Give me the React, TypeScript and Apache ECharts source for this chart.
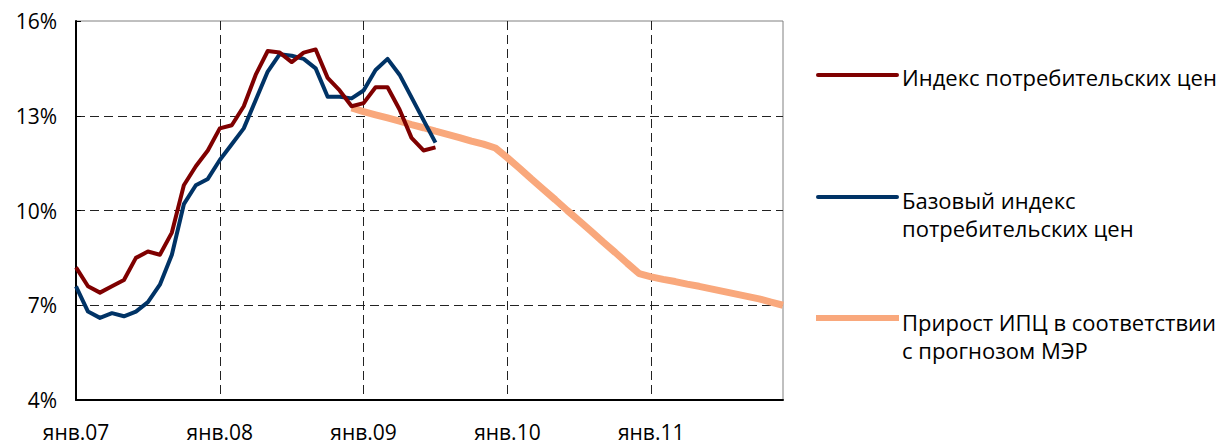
import React, { useEffect, useRef } from "react";
import * as echarts from "echarts";

const monthNames = ["янв", "фев", "мар", "апр", "май", "июн", "июл", "авг", "сен", "окт", "ноя", "дек"];
const years = ["07", "08", "09", "10", "11"];
const categories: string[] = [];
years.forEach((y) => monthNames.forEach((m) => categories.push(`${m}.${y}`)));

// ИПЦ, % г/г, янв.07 – июл.09
const cpi = [
  8.2, 7.6, 7.4, 7.6, 7.8, 8.5, 8.7, 8.6, 9.3, 10.8, 11.4, 11.9,
  12.6, 12.7, 13.3, 14.3, 15.05, 15.0, 14.7, 15.0, 15.1, 14.2, 13.8, 13.3,
  13.4, 13.9, 13.9, 13.2, 12.3, 11.9, 12.0,
];
// Базовый ИПЦ, % г/г, янв.07 – июл.09
const coreCpi = [
  7.6, 6.8, 6.6, 6.75, 6.65, 6.8, 7.1, 7.65, 8.6, 10.2, 10.8, 11.0,
  11.6, 12.1, 12.6, 13.5, 14.4, 14.95, 14.9, 14.8, 14.5, 13.6, 13.6, 13.55,
  13.8, 14.45, 14.8, 14.3, 13.58, 12.86, 12.15,
];
// Прогноз МЭР, дек.08 – дек.11
const forecastStart = "дек.08";
const forecast = [
  13.25,
  13.13, 13.03, 12.93, 12.83, 12.72, 12.62, 12.51, 12.41, 12.31, 12.2, 12.1, 11.98,
  11.67, 11.34, 11.0, 10.67, 10.34, 10.0, 9.67, 9.34, 9.0, 8.67, 8.33, 8.0,
  7.9, 7.82, 7.75, 7.67, 7.6, 7.52, 7.44, 7.36, 7.28, 7.2, 7.1, 7.0,
];
const yTicks = { min: 4, max: 16, interval: 3 };

const seriesNames = [
  "Индекс потребительских цен",
  "Базовый индекс\nпотребительских цен",
  "Прирост ИПЦ в соответствии\nс прогнозом МЭР",
];
const colors = ["#7F0000", "#003366", "#F9A87C"];

const FONT = "'Open Sans', 'Noto Sans', sans-serif";

export default function App() {
  const ref = useRef<HTMLDivElement>(null);
  useEffect(() => {
    if (!ref.current) return;
    const chart = echarts.init(ref.current, undefined, { renderer: "svg" });
    const startIdx = categories.indexOf(forecastStart);
    const forecastData = categories.map((_, i) =>
      i >= startIdx && i - startIdx < forecast.length ? forecast[i - startIdx] : null
    );
    const dash = [9, 5];
    const legendX = 818;
    const legendLineEnd = 897;
    const textX = 902;
    const isJan = (i: number) => i % 12 === 0;
    chart.setOption({
      animation: false,
      grid: {
        left: 76,
        right: 447,
        top: 21,
        bottom: 44,
        show: true,
        borderColor: "#808080",
        borderWidth: 1,
        outerBoundsMode: "none",
        containLabel: false,
      },
      xAxis: {
        type: "category",
        data: categories,
        boundaryGap: false,
        axisLine: { lineStyle: { color: "#000", width: 2 } },
        axisTick: { show: false, interval: isJan },
        axisLabel: {
          interval: isJan,
          fontSize: 21,
          color: "#000",
          fontFamily: FONT,
          margin: 21,
          hideOverlap: false,
        },
        splitLine: {
          show: true,
          showMinLine: false,
          interval: isJan,
          lineStyle: { color: "#222", type: dash, width: 1 },
        },
      },
      yAxis: {
        type: "value",
        min: yTicks.min,
        max: yTicks.max,
        interval: yTicks.interval,
        axisLine: { show: true, lineStyle: { color: "#000", width: 2 } },
        axisTick: { show: true, inside: true, length: 5, lineStyle: { color: "#000", width: 1 } },
        axisLabel: {
          formatter: "{value}%",
          fontSize: 21,
          color: "#000",
          fontFamily: FONT,
          margin: 19,
        },
        splitLine: {
          show: true,
          showMinLine: false,
          showMaxLine: false,
          lineStyle: { color: "#222", type: dash, width: 1 },
        },
      },
      series: [
        {
          name: seriesNames[2],
          type: "line",
          data: forecastData,
          symbol: "none",
          z: 2,
          lineStyle: { color: colors[2], width: 7 },
        },
        {
          name: seriesNames[1],
          type: "line",
          data: coreCpi,
          symbol: "none",
          z: 3,
          lineStyle: { color: colors[1], width: 4, join: "round" },
        },
        {
          name: seriesNames[0],
          type: "line",
          data: cpi,
          symbol: "none",
          z: 4,
          lineStyle: { color: colors[0], width: 4, join: "round" },
        },
      ],
      graphic: [
        {
          type: "line",
          shape: { x1: legendX, y1: 75, x2: legendLineEnd, y2: 75 },
          style: { stroke: colors[0], lineWidth: 4, lineCap: "round" },
        },
        {
          type: "text",
          x: textX,
          y: 77,
          style: {
            text: seriesNames[0],
            fill: "#000",
            font: `22px ${FONT}`,
            verticalAlign: "middle",
          },
        },
        {
          type: "line",
          shape: { x1: legendX, y1: 197, x2: legendLineEnd, y2: 197 },
          style: { stroke: colors[1], lineWidth: 4, lineCap: "round" },
        },
        {
          type: "text",
          x: textX,
          y: 214,
          style: {
            text: seriesNames[1],
            fill: "#000",
            font: `22px ${FONT}`,
            lineHeight: 28,
            verticalAlign: "middle",
          },
        },
        {
          type: "line",
          shape: { x1: 816, y1: 318, x2: 899, y2: 318 },
          style: { stroke: colors[2], lineWidth: 6 },
        },
        {
          type: "text",
          x: textX,
          y: 336,
          style: {
            text: seriesNames[2],
            fill: "#000",
            font: `22px ${FONT}`,
            lineHeight: 28,
            verticalAlign: "middle",
          },
        },
      ],
    });
    return () => chart.dispose();
  }, []);
  return (
    <div
      ref={ref}
      style={{ position: "fixed", left: 0, top: 0, width: 1230, height: 444, background: "#fff" }}
    />
  );
}
